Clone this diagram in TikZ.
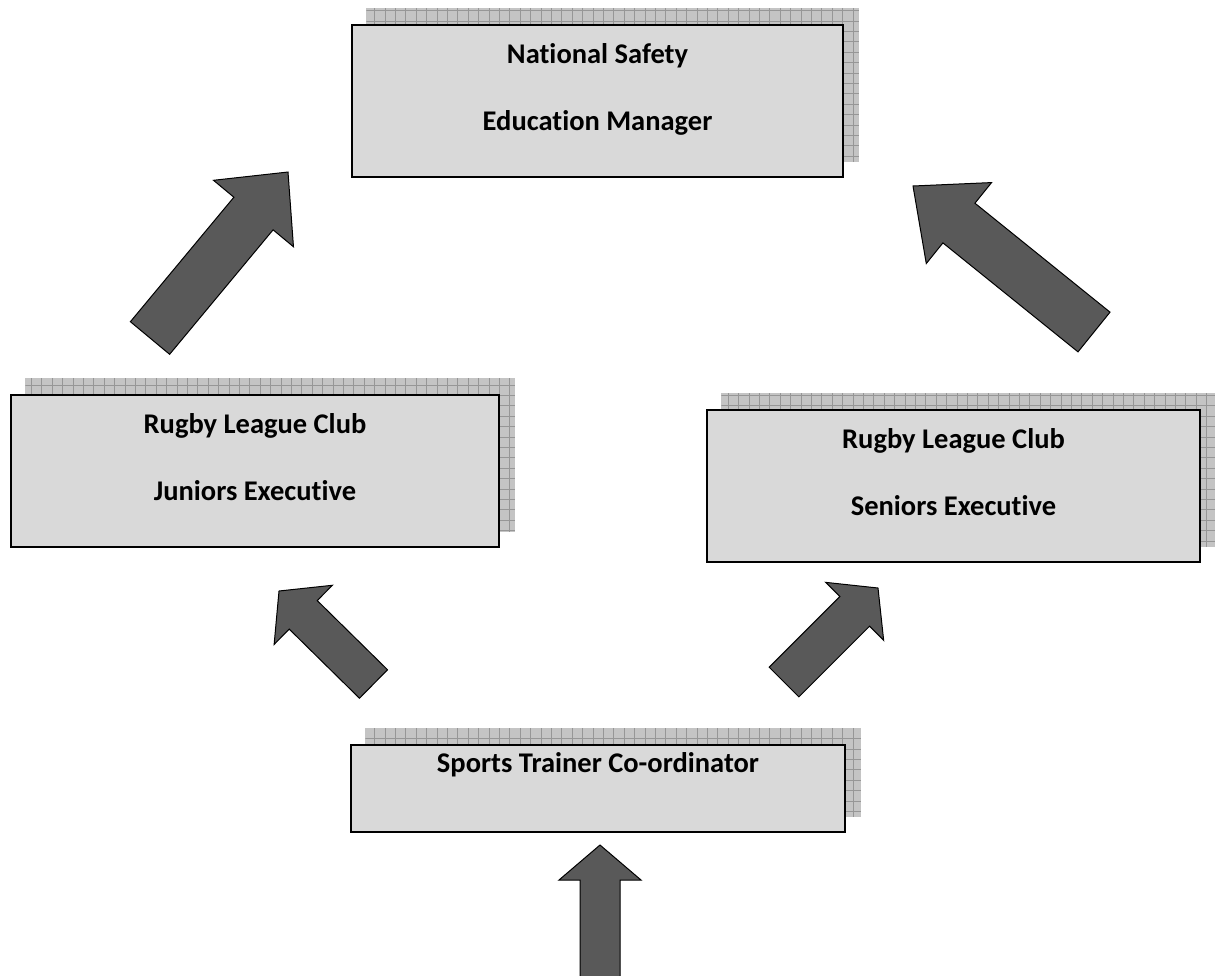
\documentclass[tikz,border=0pt]{standalone}
\usepackage{fontspec}
\setmainfont{Carlito}[Ligatures=NoCommon]
\usetikzlibrary{calc,positioning,backgrounds}

\definecolor{boxGray}{RGB}{217,217,217}
\definecolor{arrowGray}{RGB}{89,89,89}
\definecolor{shadowGray}{RGB}{196,196,196}
\definecolor{shadowLine}{RGB}{150,150,150}

\tikzset{
  unitbox/.style={draw=black, line width=1.5pt, fill=boxGray, inner sep=0pt},
  unittext/.style={font=\bfseries\fontsize{28.5}{67}\selectfont, align=center, inner sep=0pt, anchor=north},
  blockarrow/.style={draw=black, line width=1pt, fill=arrowGray, line join=miter},
}

% grid shadow up and right of a box
\newcommand{\gridshadow}[1]{%
  \coordinate (sA) at ([shift={(15,-16)}]#1.south west);
  \coordinate (sB) at ([shift={(15,-16)}]#1.north east);
  \fill[shadowGray] (sA) rectangle (sB);
  \begin{scope}
    \clip (sA) rectangle (sB);
    \draw[shadowLine, line width=0.6pt, step=10.4pt] (sA) grid (sB);
  \end{scope}}

% block arrow: tail, tip, half shaft, half head, head length
\newcommand{\fatarrow}[5]{%
  \coordinate (hb) at ($(#2)!#5!(#1)$);
  \filldraw[blockarrow] ($(#1)!#3!90:(#2)$) -- ($(hb)!#3!90:(#2)$) -- ($(hb)!#4!90:(#2)$)
    -- (#2) -- ($(hb)!#4!-90:(#2)$) -- ($(hb)!#3!-90:(#2)$) -- ($(#1)!#3!-90:(#2)$) -- cycle;}

\begin{document}
\begin{tikzpicture}[x=1pt, y=-1pt]
\useasboundingbox (0,0) rectangle (1215,975);

% boxes
\node[unitbox, minimum width=491pt, minimum height=152pt] (nat) at (597.5,101) {};
\node[unitbox, minimum width=488pt, minimum height=152pt] (jun) at (255,471) {};
\node[unitbox, minimum width=493pt, minimum height=152pt] (sen) at (953.5,486) {};
\node[unitbox, minimum width=494pt, minimum height=87pt] (spt) at (598,788.5) {};

\begin{scope}[on background layer]
\gridshadow{nat}
\gridshadow{jun}
\gridshadow{sen}
\gridshadow{spt}
\end{scope}

% texts
\node[unittext, below=19pt of nat.north] (natText) {National Safety\\Education Manager};
\node[unittext, below=19pt of jun.north] (junText) {Rugby League Club\\Juniors Executive};
\node[unittext, below=19pt of sen.north] (senText) {Rugby League Club\\Seniors Executive};
\node[unittext, below=8pt of spt.north] (sptText) {Sports Trainer Co-ordinator};

% arrows
\coordinate (junOut) at (150,338);
\coordinate (natInL) at (288,172);
\coordinate (senOut) at (1094,332);
\coordinate (natInR) at (913,186);
\coordinate (sptOutL) at (373.5,684);
\coordinate (junIn) at (279,591);
\coordinate (sptOutR) at (784,682);
\coordinate (senIn) at (878,588);
\coordinate (base) at (600,990);
\coordinate (sptIn) at (600,845);

\fatarrow{junOut}{natInL}{25.5pt}{52pt}{54pt}
\fatarrow{senOut}{natInR}{25.5pt}{52pt}{59pt}
\fatarrow{sptOutL}{junIn}{20pt}{41.5pt}{34pt}
\fatarrow{sptOutR}{senIn}{21pt}{41pt}{33pt}
\fatarrow{base}{sptIn}{20pt}{41pt}{35pt}
\end{tikzpicture}
\end{document}
